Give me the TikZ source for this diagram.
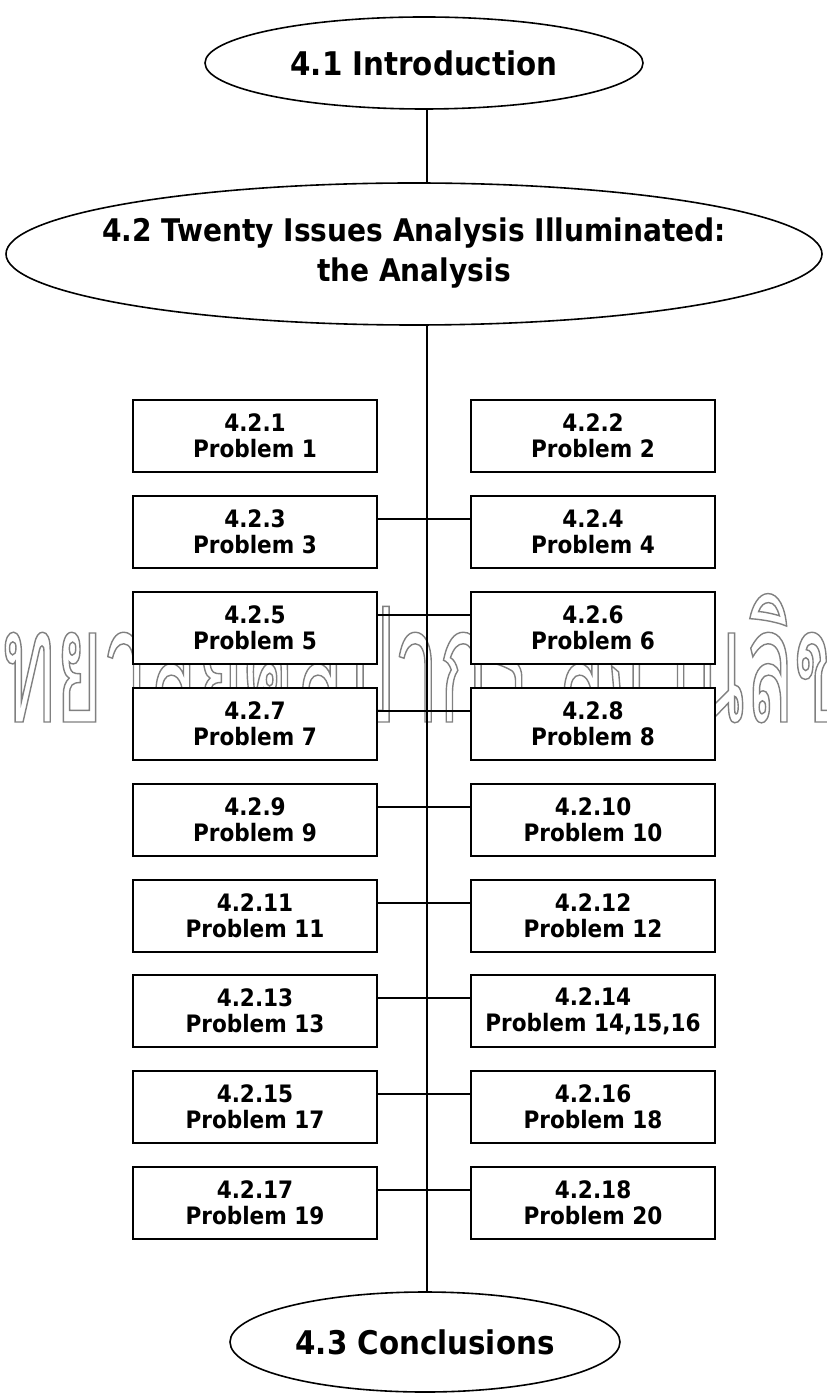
\documentclass[tikz,border=0pt]{standalone}
\usepackage{fontspec}
\setmainfont{DejaVu Sans Condensed}
\newfontfamily\thaifont[Script=Thai,FakeStretch=0.5]{Loma}
\usepackage{tikz}
\usetikzlibrary{shapes.geometric,positioning}

% hollow letters: stroke the glyph outlines only
\newcommand\hollow[1]{\special{pdf:literal direct 1 Tr 0.7 w}#1\special{pdf:literal direct 0 Tr}}

\begin{document}
\begin{tikzpicture}[
  x=0.5pt, y=-0.5pt,
  line width=0.8pt,
  ttl/.style={ellipse, draw, inner sep=0pt,
              font=\fontsize{16.3}{20}\selectfont\bfseries},
  prob/.style={rectangle, draw, fill=white, align=center, inner sep=0pt,
               minimum width=122pt, minimum height=36pt,
               font=\fontsize{12}{13}\selectfont\bfseries},
]
  \useasboundingbox (0,0) rectangle (826,1400);
  % stamp across the middle, behind the boxes
  \node[anchor=base west, inner sep=0pt, text=black!50] (stamp) at (2,722)
    {\thaifont\fontsize{80}{80}\selectfont\hollow{ทยาลัยศิลปากร สงวนลิขสิทธิ์}};
  % chapter head and tail
  \node[ttl, minimum width=219pt, minimum height=46pt] (intro) at (424,63) {4.1 Introduction};
  \node[ttl, minimum width=408pt, minimum height=71pt,
        font=\fontsize{15.6}{20}\selectfont\bfseries] (analysis) at (414,254)
    {\makebox[0pt]{\begin{tabular}{@{}c@{}}4.2 Twenty Issues Analysis Illuminated:\\the Analysis\end{tabular}}};
  \node[ttl, minimum width=195pt, minimum height=50pt] (concl) at (425,1342) {4.3 Conclusions};
  % problems, left column
  \node[prob] (prob-1)  at (255,436)  {4.2.1\\Problem 1};
  \node[prob] (prob-3)  at (255,532)  {4.2.3\\Problem 3};
  \node[prob] (prob-5)  at (255,628)  {4.2.5\\Problem 5};
  \node[prob] (prob-7)  at (255,724)  {4.2.7\\Problem 7};
  \node[prob] (prob-9)  at (255,820)  {4.2.9\\Problem 9};
  \node[prob] (prob-11) at (255,916)  {4.2.11\\Problem 11};
  \node[prob] (prob-13) at (255,1011) {4.2.13\\Problem 13};
  \node[prob] (prob-15) at (255,1107) {4.2.15\\Problem 17};
  \node[prob] (prob-17) at (255,1203) {4.2.17\\Problem 19};
  % problems, right column
  \node[prob] (prob-2)  at (593,436)  {4.2.2\\Problem 2};
  \node[prob] (prob-4)  at (593,532)  {4.2.4\\Problem 4};
  \node[prob] (prob-6)  at (593,628)  {4.2.6\\Problem 6};
  \node[prob] (prob-8)  at (593,724)  {4.2.8\\Problem 8};
  \node[prob] (prob-10) at (593,820)  {4.2.10\\Problem 10};
  \node[prob] (prob-12) at (593,916)  {4.2.12\\Problem 12};
  \node[prob] (prob-14) at (593,1011) {4.2.14\\Problem 14,15,16};
  \node[prob] (prob-16) at (593,1107) {4.2.16\\Problem 18};
  \node[prob] (prob-18) at (593,1203) {4.2.18\\Problem 20};
  % spine
  \draw (intro.south -| 427,0) -- (analysis.north -| 427,0);
  \draw (analysis.south -| 427,0) -- (concl.north -| 427,0);
  % rungs
  \draw ([yshift=6.5pt]prob-3.east)  -- ([yshift=6.5pt]prob-4.west);
  \draw ([yshift=6.5pt]prob-5.east)  -- ([yshift=6.5pt]prob-6.west);
  \draw ([yshift=6.5pt]prob-7.east)  -- ([yshift=6.5pt]prob-8.west);
  \draw ([yshift=6.5pt]prob-9.east)  -- ([yshift=6.5pt]prob-10.west);
  \draw ([yshift=6.5pt]prob-11.east) -- ([yshift=6.5pt]prob-12.west);
  \draw ([yshift=6.5pt]prob-13.east) -- ([yshift=6.5pt]prob-14.west);
  \draw ([yshift=6.5pt]prob-15.east) -- ([yshift=6.5pt]prob-16.west);
  \draw ([yshift=6.5pt]prob-17.east) -- ([yshift=6.5pt]prob-18.west);
\end{tikzpicture}
\end{document}
